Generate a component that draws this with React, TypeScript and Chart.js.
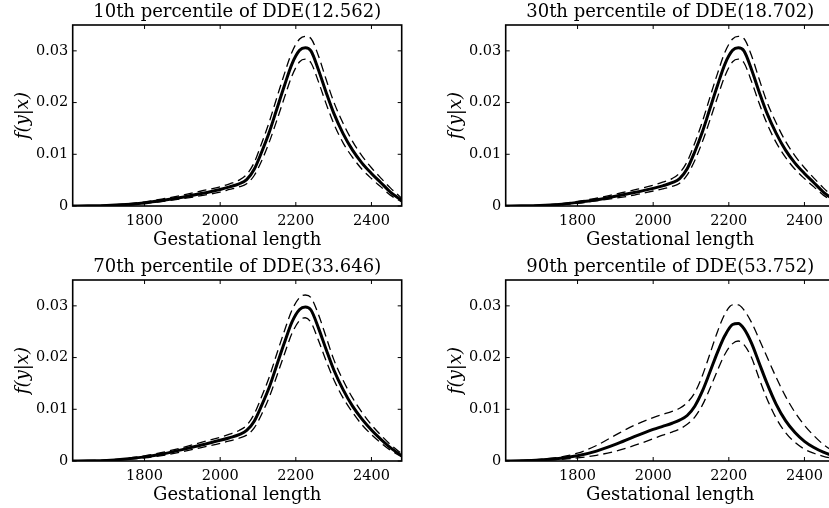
import React, { useEffect, useRef } from "react";
import { Chart, registerables } from "chart.js";

Chart.register(...registerables);

// ---------- data ----------
const gestLength = [1610, 1650, 1700, 1750, 1800, 1850, 1900, 1950, 2000, 2025, 2050, 2070, 2090, 2110, 2130, 2150, 2170, 2190, 2210, 2225, 2240, 2260, 2280, 2300, 2325, 2350, 2375, 2400, 2425, 2450, 2480];

const xTickValues = [1800, 2000, 2200, 2400];
const xTickLabels = ["1800", "2000", "2200", "2400"];
const yTickValues = [0, 0.01, 0.02, 0.03];
const yTickLabels = ["0", "0.01", "0.02", "0.03"];

const panelTitles = [
  "10th percentile of DDE(12.562)",
  "30th percentile of DDE(18.702)",
  "70th percentile of DDE(33.646)",
  "90th percentile of DDE(53.752)",
];
const xAxisTitle = "Gestational length";
const yAxisTitle = "f(y|x)";

const p10Mean = [0, 0.00003, 0.0001, 0.0003, 0.0006, 0.0011, 0.0017, 0.0024, 0.0032, 0.0037, 0.0043, 0.0051, 0.0071, 0.0105, 0.0143, 0.0188, 0.0233, 0.0275, 0.0301, 0.0306, 0.0300, 0.0263, 0.0220, 0.0180, 0.0140, 0.0108, 0.0083, 0.0063, 0.0045, 0.0027, 0.0011];
const p10Upper = [0, 0.00005, 0.00015, 0.0004, 0.0008, 0.0014, 0.0021, 0.0029, 0.0037, 0.0043, 0.0050, 0.0061, 0.0084, 0.0122, 0.0163, 0.0210, 0.0256, 0.0298, 0.0323, 0.0328, 0.0324, 0.0290, 0.0245, 0.0202, 0.0160, 0.0125, 0.0097, 0.0074, 0.0054, 0.0035, 0.0015];
const p10Lower = [0, 0.00002, 0.00006, 0.0002, 0.0005, 0.0009, 0.0014, 0.0020, 0.0027, 0.0032, 0.0037, 0.0043, 0.0059, 0.0088, 0.0124, 0.0166, 0.0210, 0.0252, 0.0279, 0.0284, 0.0277, 0.0240, 0.0198, 0.0160, 0.0122, 0.0094, 0.0071, 0.0053, 0.0037, 0.0021, 0.0008];

const p30Mean = [0, 0.00003, 0.0001, 0.0003, 0.0007, 0.0012, 0.0019, 0.0026, 0.0034, 0.0039, 0.0045, 0.0053, 0.0072, 0.0105, 0.0143, 0.0188, 0.0233, 0.0275, 0.0301, 0.0306, 0.0300, 0.0264, 0.0221, 0.0181, 0.0141, 0.0108, 0.0083, 0.0063, 0.0045, 0.0027, 0.0011];
const p30Upper = [0, 0.00005, 0.00015, 0.0004, 0.0009, 0.0015, 0.0023, 0.0031, 0.0040, 0.0046, 0.0053, 0.0064, 0.0086, 0.0122, 0.0163, 0.0210, 0.0256, 0.0298, 0.0323, 0.0328, 0.0324, 0.0291, 0.0246, 0.0203, 0.0161, 0.0125, 0.0097, 0.0074, 0.0054, 0.0035, 0.0015];
const p30Lower = [0, 0.00002, 0.00006, 0.0002, 0.0005, 0.0010, 0.0015, 0.0021, 0.0029, 0.0033, 0.0038, 0.0044, 0.0060, 0.0088, 0.0124, 0.0166, 0.0210, 0.0252, 0.0279, 0.0284, 0.0277, 0.0241, 0.0199, 0.0161, 0.0123, 0.0094, 0.0071, 0.0053, 0.0037, 0.0021, 0.0008];

const p70Mean = [0, 0.00003, 0.00012, 0.0004, 0.0008, 0.0014, 0.0022, 0.0031, 0.0040, 0.0045, 0.0051, 0.0059, 0.0077, 0.0108, 0.0143, 0.0186, 0.0229, 0.0269, 0.0293, 0.0298, 0.0292, 0.0257, 0.0216, 0.0177, 0.0138, 0.0106, 0.0081, 0.0060, 0.0042, 0.0026, 0.0010];
const p70Upper = [0, 0.00005, 0.0002, 0.0005, 0.0010, 0.0017, 0.0026, 0.0036, 0.0046, 0.0052, 0.0059, 0.0069, 0.0091, 0.0125, 0.0163, 0.0208, 0.0252, 0.0292, 0.0316, 0.0321, 0.0316, 0.0283, 0.0240, 0.0197, 0.0156, 0.0122, 0.0094, 0.0070, 0.0050, 0.0032, 0.0014];
const p70Lower = [0, 0.00002, 0.00008, 0.0003, 0.0006, 0.0011, 0.0018, 0.0026, 0.0034, 0.0039, 0.0044, 0.0050, 0.0064, 0.0091, 0.0124, 0.0165, 0.0207, 0.0247, 0.0272, 0.0277, 0.0268, 0.0233, 0.0194, 0.0158, 0.0122, 0.0094, 0.0070, 0.0051, 0.0035, 0.0021, 0.0008];

const p90Mean = [0, 0.00005, 0.0002, 0.0005, 0.0010, 0.0019, 0.0032, 0.0047, 0.0061, 0.0067, 0.0073, 0.0079, 0.0088, 0.0106, 0.0135, 0.0172, 0.0210, 0.0243, 0.0264, 0.0266, 0.0256, 0.0228, 0.0190, 0.0152, 0.0110, 0.0078, 0.0055, 0.0038, 0.0026, 0.0017, 0.0009];
const p90Upper = [0, 0.0001, 0.0003, 0.0007, 0.0015, 0.0030, 0.0050, 0.0069, 0.0084, 0.0090, 0.0096, 0.0102, 0.0113, 0.0132, 0.0165, 0.0207, 0.0250, 0.0285, 0.0302, 0.0302, 0.0292, 0.0268, 0.0236, 0.0203, 0.0162, 0.0125, 0.0094, 0.0069, 0.0049, 0.0032, 0.0017];
const p90Lower = [0, 0.00002, 0.0001, 0.0003, 0.0006, 0.0011, 0.0019, 0.0030, 0.0043, 0.0050, 0.0056, 0.0062, 0.0071, 0.0085, 0.0108, 0.0140, 0.0175, 0.0207, 0.0227, 0.0232, 0.0225, 0.0200, 0.0160, 0.0122, 0.0083, 0.0055, 0.0036, 0.0023, 0.0015, 0.0009, 0.0004];

const X_MIN = 1610;
const X_MAX = 2480;
const Y_MIN = 0;
const Y_MAX = 0.035;

// ---------- styling ----------
const FONT = "'DejaVu Serif', serif";

const frameTicksPlugin = {
  id: "frameTicks",
  afterDraw(chart: any) {
    const { ctx, chartArea: a, scales } = chart;
    const tl = 4;
    ctx.save();
    ctx.strokeStyle = "#000";
    ctx.lineWidth = 1;
    ctx.beginPath();
    for (const v of xTickValues) {
      const px = scales.x.getPixelForValue(v);
      ctx.moveTo(px, a.bottom);
      ctx.lineTo(px, a.bottom - tl);
      ctx.moveTo(px, a.top);
      ctx.lineTo(px, a.top + tl);
    }
    for (const v of yTickValues) {
      const py = scales.y.getPixelForValue(v);
      ctx.moveTo(a.left, py);
      ctx.lineTo(a.left + tl, py);
      ctx.moveTo(a.right, py);
      ctx.lineTo(a.right - tl, py);
    }
    ctx.stroke();
    ctx.lineWidth = 1.6;
    ctx.strokeRect(a.left, a.top, a.right - a.left, a.bottom - a.top);
    ctx.restore();
  },
};

type PanelProps = {
  title: string;
  mean: number[];
  upper: number[];
  lower: number[];
  left: number;
  top: number;
};

function Panel({ title, mean, upper, lower, left, top }: PanelProps) {
  const ref = useRef<HTMLCanvasElement>(null);
  useEffect(() => {
    if (!ref.current) return;
    const mk = (ys: number[]) => gestLength.map((x, i) => ({ x, y: ys[i] }));
    const dashed = {
      borderColor: "#000",
      borderWidth: 1.3,
      borderDash: [9, 5],
      pointRadius: 0,
      cubicInterpolationMode: "monotone" as const,
      fill: false,
    };
    const chart = new Chart(ref.current, {
      type: "line",
      data: {
        datasets: [
          { ...dashed, data: mk(upper) },
          { ...dashed, data: mk(lower) },
          {
            data: mk(mean),
            borderColor: "#000",
            borderWidth: 3,
            pointRadius: 0,
            cubicInterpolationMode: "monotone",
            fill: false,
          },
        ],
      },
      options: {
        responsive: false,
        animation: false,
        layout: { padding: { left: 0, right: 18.3, top: 0, bottom: 0 } },
        plugins: {
          legend: { display: false },
          tooltip: { enabled: false },
          title: {
            display: true,
            text: title,
            fullSize: false,
            color: "#000",
            font: { family: FONT, size: 18, weight: "normal", lineHeight: 1.2 },
            padding: { top: 2, bottom: 1.4 },
          },
        },
        scales: {
          x: {
            type: "linear",
            min: X_MIN,
            max: X_MAX,
            afterBuildTicks: (s: any) => {
              s.ticks = xTickValues.map((v) => ({ value: v }));
            },
            afterFit: (s: any) => {
              s.height = 45;
            },
            grid: { display: false, drawTicks: false },
            border: { display: false },
            ticks: {
              color: "#000",
              font: { family: FONT, size: 14.5 },
              padding: 7,
              maxRotation: 0,
              autoSkip: false,
              callback: (v: any) => xTickLabels[xTickValues.indexOf(Number(v))] ?? "",
            },
            title: {
              display: true,
              text: xAxisTitle,
              color: "#000",
              font: { family: FONT, size: 18, lineHeight: 1.2 },
              padding: { top: 0, bottom: 0 },
            },
          },
          y: {
            type: "linear",
            min: Y_MIN,
            max: Y_MAX,
            afterBuildTicks: (s: any) => {
              s.ticks = yTickValues.map((v) => ({ value: v }));
            },
            afterFit: (s: any) => {
              s.width = 72.7;
            },
            grid: { display: false, drawTicks: false },
            border: { display: false },
            ticks: {
              color: "#000",
              font: { family: FONT, size: 14.5 },
              padding: 4.4,
              autoSkip: false,
              callback: (v: any) => yTickLabels[yTickValues.indexOf(Number(v))] ?? "",
            },
            title: {
              display: true,
              text: yAxisTitle,
              color: "#000",
              font: { family: FONT, size: 18, style: "italic", lineHeight: 1.2 },
              padding: { top: 12.5, bottom: 0 },
            },
          },
        },
      } as any,
      plugins: [frameTicksPlugin],
    });
    return () => chart.destroy();
  }, [title, mean, upper, lower]);
  return (
    <canvas
      ref={ref}
      width={420}
      height={251}
      style={{ position: "absolute", left, top, width: 420, height: 251 }}
    />
  );
}

export default function App() {
  return (
    <div
      style={{
        position: "fixed",
        left: 0,
        top: 0,
        width: 829,
        height: 508,
        overflow: "hidden",
        background: "#fff",
      }}
    >
      <Panel title={panelTitles[0]} mean={p10Mean} upper={p10Upper} lower={p10Lower} left={0} top={0} />
      <Panel title={panelTitles[1]} mean={p30Mean} upper={p30Upper} lower={p30Lower} left={433} top={0} />
      <Panel title={panelTitles[2]} mean={p70Mean} upper={p70Upper} lower={p70Lower} left={0} top={255} />
      <Panel title={panelTitles[3]} mean={p90Mean} upper={p90Upper} lower={p90Lower} left={433} top={255} />
    </div>
  );
}
